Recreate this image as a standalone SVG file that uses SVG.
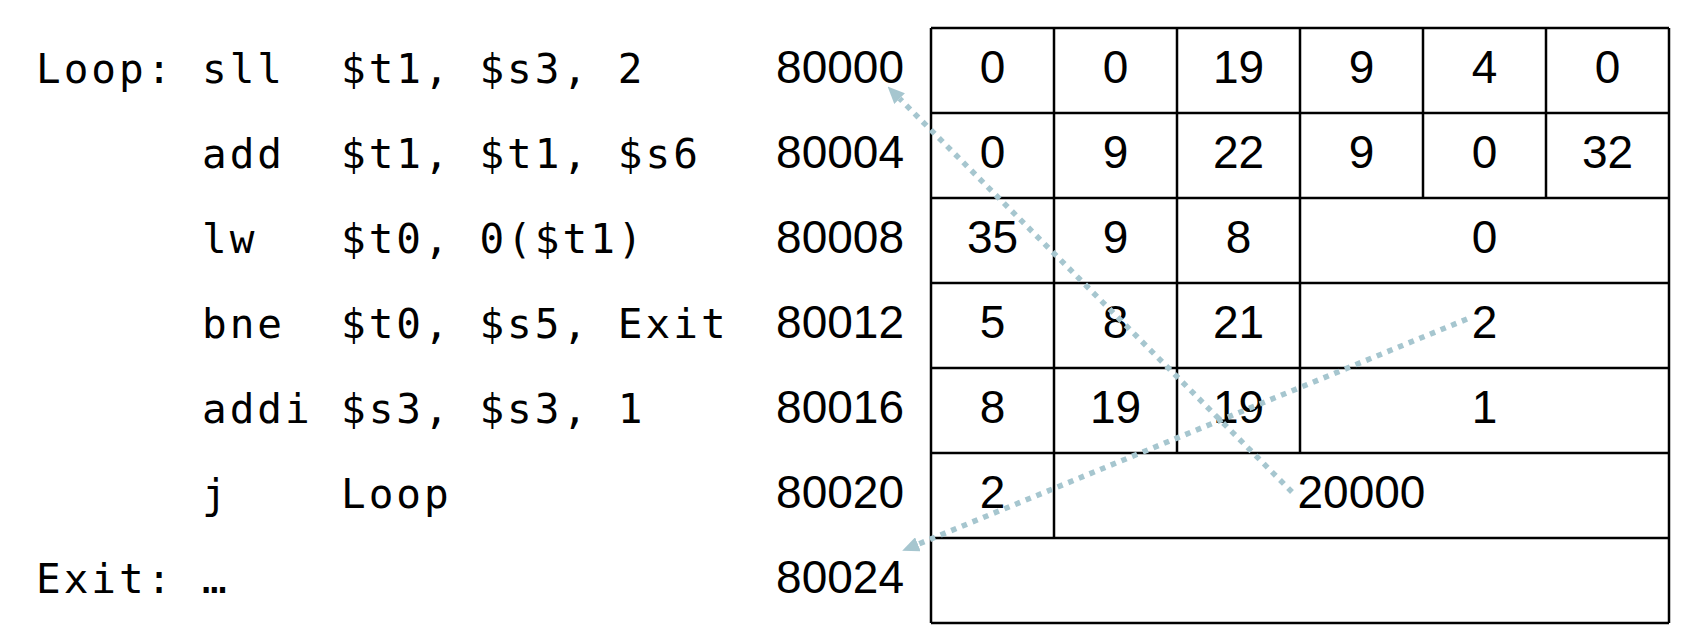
<svg xmlns="http://www.w3.org/2000/svg" width="1708" height="644" viewBox="0 0 1708 644">
<style>
.code{font-family:"DejaVu Sans Mono","Liberation Mono",monospace;font-size:41px;letter-spacing:3px;fill:#000}
.num{font-family:"Liberation Sans",Arial,sans-serif;font-size:46px;fill:#000;text-anchor:middle}
.addr{font-family:"Liberation Sans",Arial,sans-serif;font-size:46px;fill:#000;text-anchor:end}
.grid{stroke:#000;stroke-width:2.5;fill:none}
.conn{stroke:#a6c6cf;stroke-width:5.5;stroke-dasharray:5.5 6;fill:none}
</style>
<defs>
<marker id="ah" viewBox="0 0 17 15" markerWidth="17" markerHeight="15" refX="0" refY="7.5" orient="auto" markerUnits="userSpaceOnUse">
<path d="M0,0 L17,7.5 L0,15 z" fill="#a6c6cf"/>
</marker>
</defs>
<rect width="1708" height="644" fill="#fff"/>
<g id="code">
<text class="code" y="83"><tspan x="36">Loop:</tspan><tspan x="202">sll</tspan><tspan x="341">$t1, $s3, 2</tspan></text>
<text class="code" y="168"><tspan x="202">add</tspan><tspan x="341">$t1, $t1, $s6</tspan></text>
<text class="code" y="253"><tspan x="202">lw</tspan><tspan x="341">$t0, 0($t1)</tspan></text>
<text class="code" y="338"><tspan x="202">bne</tspan><tspan x="341">$t0, $s5, Exit</tspan></text>
<text class="code" y="423"><tspan x="202">addi</tspan><tspan x="341">$s3, $s3, 1</tspan></text>
<text class="code" y="508"><tspan x="202">j</tspan><tspan x="341">Loop</tspan></text>
<text class="code" y="593"><tspan x="36">Exit:</tspan><tspan x="202">…</tspan></text>
</g>
<g id="addresses">
<text class="addr" x="904" y="83">80000</text>
<text class="addr" x="904" y="168">80004</text>
<text class="addr" x="904" y="253">80008</text>
<text class="addr" x="904" y="338">80012</text>
<text class="addr" x="904" y="423">80016</text>
<text class="addr" x="904" y="508">80020</text>
<text class="addr" x="904" y="593">80024</text>
</g>
<g id="table">
<path class="grid" d="M931,28H1669M931,113H1669M931,198H1669M931,283H1669M931,368H1669M931,453H1669M931,538H1669M931,623H1669M931,28V623M1669,28V623M1054,28V538M1177,28V453M1300,28V453M1423,28V198M1546,28V198"/>
<g id="row80000">
<text class="num" x="992.5" y="83">0</text><text class="num" x="1115.5" y="83">0</text><text class="num" x="1238.5" y="83">19</text><text class="num" x="1361.5" y="83">9</text><text class="num" x="1484.5" y="83">4</text><text class="num" x="1607.5" y="83">0</text>
</g>
<g id="row80004">
<text class="num" x="992.5" y="168">0</text><text class="num" x="1115.5" y="168">9</text><text class="num" x="1238.5" y="168">22</text><text class="num" x="1361.5" y="168">9</text><text class="num" x="1484.5" y="168">0</text><text class="num" x="1607.5" y="168">32</text>
</g>
<g id="row80008">
<text class="num" x="992.5" y="253">35</text><text class="num" x="1115.5" y="253">9</text><text class="num" x="1238.5" y="253">8</text><text class="num" x="1484.5" y="253">0</text>
</g>
<g id="row80012">
<text class="num" x="992.5" y="338">5</text><text class="num" x="1115.5" y="338">8</text><text class="num" x="1238.5" y="338">21</text><text class="num" x="1484.5" y="338">2</text>
</g>
<g id="row80016">
<text class="num" x="992.5" y="423">8</text><text class="num" x="1115.5" y="423">19</text><text class="num" x="1238.5" y="423">19</text><text class="num" x="1484.5" y="423">1</text>
</g>
<g id="row80020">
<text class="num" x="992.5" y="508">2</text><text class="num" x="1361.5" y="508">20000</text>
</g>
<g id="row80024"></g>
</g>
<g id="connectors">
<line class="conn" x1="1292" y1="492" x2="899.6" y2="98.6" marker-end="url(#ah)"/>
<line class="conn" x1="1467" y1="319" x2="917.9" y2="544.3" marker-end="url(#ah)"/>
</g>
</svg>
